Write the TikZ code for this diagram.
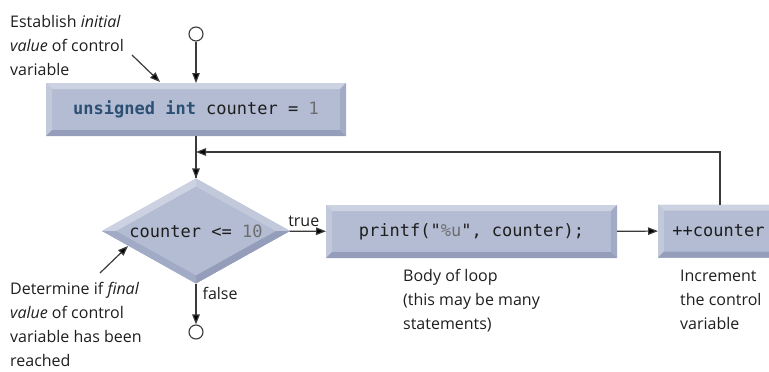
\documentclass[tikz,border=0pt]{standalone}
\usepackage{fontspec}
\setmainfont{Open Sans}
\setmonofont{DejaVu Sans Mono}
\usetikzlibrary{arrows.meta,shapes.geometric}

\definecolor{face}{HTML}{B3BCD3}
\definecolor{bvtop}{HTML}{CCD2E2}
\definecolor{bvleft}{HTML}{C2C9DB}
\definecolor{bvbot}{HTML}{949EBB}
\definecolor{bvright}{HTML}{A2ABC5}
\definecolor{kw}{HTML}{2C4F74}
\definecolor{num}{HTML}{6E6E6E}
\definecolor{ink}{HTML}{1E1E1E}
\definecolor{wire}{HTML}{3A3A3A}

\tikzset{
  bevelbox/.style={rectangle, inner sep=0pt, outer sep=0pt, fill=face,
    minimum height=53pt, font=\fontsize{17}{20}\selectfont\ttfamily, text=ink,
    path picture={
      \def\bb{path picture bounding box}
      \fill[bvtop] (\bb.north west) -- (\bb.north east)
        -- ([shift={(-6pt,-6pt)}]\bb.north east) -- ([shift={(6pt,-6pt)}]\bb.north west) -- cycle;
      \fill[bvleft] (\bb.north west) -- ([shift={(6pt,-6pt)}]\bb.north west)
        -- ([shift={(6pt,6pt)}]\bb.south west) -- (\bb.south west) -- cycle;
      \fill[bvbot] (\bb.south west) -- (\bb.south east)
        -- ([shift={(-6pt,6pt)}]\bb.south east) -- ([shift={(6pt,6pt)}]\bb.south west) -- cycle;
      \fill[bvright] (\bb.north east) -- ([shift={(-6pt,-6pt)}]\bb.north east)
        -- ([shift={(-6pt,6pt)}]\bb.south east) -- (\bb.south east) -- cycle;
    }},
  bevelgem/.style={diamond, inner sep=0pt, outer sep=0pt, fill=face, shape aspect=1.79,
    minimum width=188pt, minimum height=105pt,
    font=\fontsize{17}{20}\selectfont\ttfamily, text=ink,
    path picture={
      \def\bb{path picture bounding box}
      \coordinate (gN) at (\bb.north);
      \coordinate (gE) at (\bb.east);
      \coordinate (gS) at (\bb.south);
      \coordinate (gW) at (\bb.west);
      \coordinate (iN) at ([yshift=-8pt]\bb.north);
      \coordinate (iE) at ([xshift=-14pt]\bb.east);
      \coordinate (iS) at ([yshift=8pt]\bb.south);
      \coordinate (iW) at ([xshift=14pt]\bb.west);
      \fill[bvtop] (gW) -- (gN) -- (iN) -- (iW) -- cycle;
      \fill[bvleft] (gN) -- (gE) -- (iE) -- (iN) -- cycle;
      \fill[bvbot] (gE) -- (gS) -- (iS) -- (iE) -- cycle;
      \fill[bvright] (gS) -- (gW) -- (iW) -- (iS) -- cycle;
    }},
  terminal/.style={circle, draw=wire, fill=white, line width=1.1pt,
    minimum size=14pt, inner sep=0pt},
  flow/.style={draw=wire, line width=1.2pt,
    -{Triangle[length=10pt,width=7.5pt,fill=black]}},
  % multi-line notes are placed by the baseline of their last line
  note/.style={align=left, inner sep=0pt, anchor=base west, text=ink,
    font=\fontsize{16}{24}\selectfont},
  tag/.style={inner sep=0pt, text=ink, font=\fontsize{16}{20}\selectfont},
}

\begin{document}
\begin{tikzpicture}[x=1pt,y=-1pt]
\useasboundingbox (0,0) rectangle (769,372);
\clip (0,0) rectangle (769,372);

% flow chart elements
\node[terminal] (start) at (196,34) {};
\node[bevelbox, minimum width=300pt] (init) at (196,109.5)
  {\textcolor{kw}{\bfseries unsigned int} counter = \textcolor{num}{1}};
\node[bevelgem] (test) at (196,231) {counter <= \textcolor{num}{10}};
\node[bevelbox, minimum width=291pt] (body) at (471.5,231.5)
  {printf("\textcolor{num}{\%u}", counter);};
\node[bevelbox, minimum width=121pt] (incr) at (718.5,231)
  {++counter};
\node[terminal] (stop) at (196,332) {};
\coordinate (merge) at (196,152);

% connectors
\draw[flow] (start) -- (init);
\draw[draw=wire, line width=1.2pt] (init) -- (test);
\draw[flow] (merge) -- (test);
\draw[flow] (test) -- node[tag, anchor=south west, pos=0.0, xshift=-2pt, yshift=4pt] {true} (body);
\draw[flow] (body) -- (incr);
\draw[flow] ([xshift=1.5pt]incr.north) |- (merge);
\draw[flow] (test) -- node[tag, anchor=west, pos=0.25, xshift=6pt] {false} (stop);

% annotations
\node[note] (noteinit) at (10,75) {Establish \textit{initial}\\\textit{value} of control\\variable};
\coordinate (tipinit) at (160,82);
\draw[flow] (132,55) -- (tipinit);
\node[note] (notetest) at (10,366) {Determine if \textit{final}\\\textit{value} of control\\variable has been\\reached};
\coordinate (tiptest) at (128,246);
\draw[flow] (100,273) -- (tiptest);
\node[note] (notebody) at (403,329) {Body of loop\\(this may be many\\statements)};
\node[note] (noteincr) at (680,329) {Increment\\the control\\variable};
\end{tikzpicture}
\end{document}
